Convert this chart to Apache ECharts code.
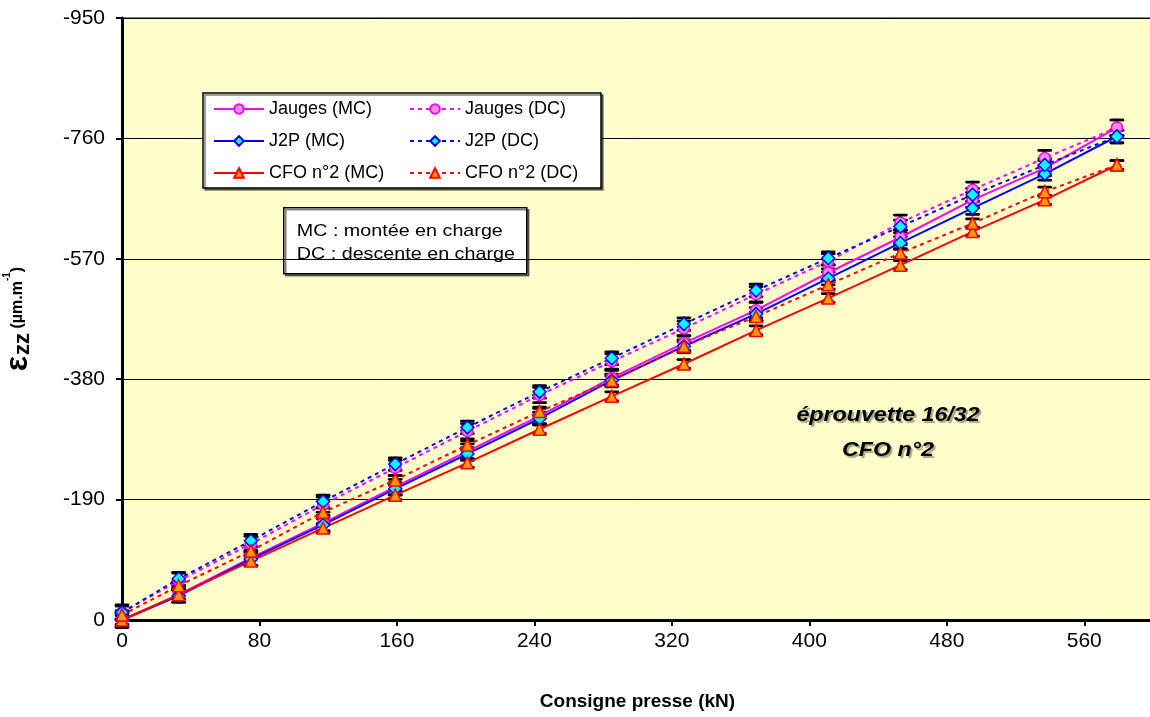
<!DOCTYPE html>
<html>
<head>
<meta charset="utf-8">
<script src="https://cdn.jsdelivr.net/npm/echarts@6/dist/echarts.min.js"></script>
<style>
  html, body { margin: 0; padding: 0; background: #fff; }
  #chart { width: 1150px; height: 717px; }
</style>
</head>
<body>
<div id="chart"></div>
<script>
// load steps (kN)
const loadKN = [0, 33, 75, 117, 159, 201, 243, 285, 327, 369, 411, 453, 495, 537, 579];

// strain values (µm/m), MC = loading, DC = unloading
const jaugesMC = [0, -40, -98, -153, -210, -266, -322, -382, -437, -489, -548, -604, -663, -713, -777];
const jaugesDC = [-12, -62, -120, -182, -240, -298, -355, -408, -460, -514, -566, -627, -679, -729, -777];
const j2pMC = [0, -38, -96, -150, -207, -262, -318, -378, -432, -483, -539, -595, -650, -704, -763];
const j2pDC = [-12, -65, -125, -187, -246, -304, -360, -413, -467, -520, -571, -621, -671, -718, -763];
const cfoMC = [0, -40, -93, -145, -197, -248, -301, -353, -404, -457, -508, -560, -613, -663, -718];
const cfoDC = [-8, -54, -109, -170, -221, -276, -329, -378, -432, -479, -529, -579, -626, -676, -718];

// half width of the error bars, per sensor
const errJauges = 12;
const errJ2P = 10;
const errCFO = 7;

const yTicks = { min: -950, max: 0, step: 190 };
const xTicks = { min: 0, max: 600, step: 80 };

const FONT = 'Liberation Sans, Arial, sans-serif';
// the original picture is a bit wider than it is tall
const stretch = 1.16;

const pairs = function (vals) {
    return loadKN.map((x, i) => [x, vals[i]]);
};
const withErr = function (vals, e) {
    return loadKN.map((x, i) => [x, vals[i], e]);
};

const styles = {
    jauges: { line: '#FF00FF', fill: '#EE8EE0', symbol: 'circle', size: 11 },
    j2p: { line: '#0000FF', fill: '#00FFFF', symbol: 'diamond', size: 13 },
    cfo: { line: '#FF0000', fill: '#FF9900', symbol: 'triangle', size: 12 }
};

const lineSeries = function (name, vals, st, dashed) {
    return {
        name: name,
        type: 'line',
        data: pairs(vals),
        symbol: st.symbol,
        symbolSize: st.size,
        showAllSymbol: true,
        z: 3,
        lineStyle: { color: st.line, width: 2, type: dashed ? [4, 4] : 'solid' },
        itemStyle: { color: st.fill, borderColor: st.line, borderWidth: 1.5 }
    };
};

const errorSeries = function (vals, e) {
    return {
        type: 'custom',
        z: 1,
        silent: true,
        data: withErr(vals, e),
        encode: { x: 0, y: 1 },
        renderItem: function (params, api) {
            const x = api.value(0);
            const y = api.value(1);
            const err = api.value(2);
            const top = api.coord([x, y - err]);
            const bot = api.coord([x, y + err]);
            const cap = 6;
            const st = { stroke: '#000', lineWidth: 2.7, lineCap: 'round' };
            return {
                type: 'group',
                children: [
                    { type: 'line', shape: { x1: top[0], y1: top[1], x2: bot[0], y2: bot[1] }, style: st },
                    { type: 'line', shape: { x1: top[0] - cap, y1: top[1], x2: top[0] + cap, y2: top[1] }, style: st },
                    { type: 'line', shape: { x1: bot[0] - cap, y1: bot[1], x2: bot[0] + cap, y2: bot[1] }, style: st }
                ]
            };
        }
    };
};

const noteText = function (txt, x, y) {
    return {
        type: 'text', x: x, y: y, scaleX: stretch,
        style: { text: txt, font: '17px ' + FONT, fill: '#000', verticalAlign: 'middle' }
    };
};
const titleText = function (txt, y) {
    return {
        type: 'text', x: 888, y: y, z: 10, scaleX: stretch,
        style: {
            text: txt, font: 'italic bold 20px ' + FONT, fill: '#000',
            align: 'center', verticalAlign: 'middle',
            textShadowColor: 'rgba(0,0,0,0.35)', textShadowOffsetX: 2, textShadowOffsetY: 2, textShadowBlur: 1
        }
    };
};

let chart = echarts.init(document.getElementById('chart'));

let option = {
    animation: false,
    backgroundColor: '#fff',
    grid: {
        left: 122, right: -3, top: 18, bottom: 97,
        outerBoundsMode: 'none',
        containLabel: false,
        show: true, backgroundColor: '#FFFFCC', borderColor: '#808080', borderWidth: 2
    },
    legend: {
        left: 203, top: 93, width: 390,
        orient: 'horizontal',
        itemWidth: 50, itemHeight: 12, itemGap: 14,
        padding: [7, 10, 6, 10],
        backgroundColor: '#fff', borderColor: '#000', borderWidth: 1.5,
        shadowColor: 'rgba(0,0,0,0.5)', shadowOffsetX: 2, shadowOffsetY: 2,
        textStyle: { fontFamily: FONT, fontSize: 18, color: '#000', width: 126, lineHeight: 17 },
        data: ['Jauges (MC)', 'Jauges (DC)', 'J2P (MC)', 'J2P (DC)', 'CFO n°2 (MC)', 'CFO n°2 (DC)']
    },
    xAxis: {
        type: 'value',
        min: xTicks.min, max: xTicks.max, interval: xTicks.step,
        name: 'Consigne presse (kN)',
        nameLocation: 'middle', nameGap: 72,
        nameTextStyle: { fontFamily: FONT, fontSize: 19, fontWeight: 'bold', color: '#000' },
        axisLine: { lineStyle: { color: '#000', width: 3 } },
        axisTick: { show: true, length: 6, lineStyle: { color: '#000', width: 2 } },
        axisLabel: { fontFamily: FONT, fontSize: 21, color: '#000', margin: 11, showMaxLabel: false },
        splitLine: { show: false }
    },
    yAxis: {
        type: 'value',
        inverse: true,
        min: yTicks.min, max: yTicks.max, interval: yTicks.step,
        name: '{eps|ε}{sub|zz}{unit| (µm.m}{sup|-1}{unit|)}',
        nameLocation: 'middle', nameRotate: 90, nameGap: 88,
        nameTextStyle: {
            fontFamily: FONT, fontWeight: 'bold', color: '#000',
            rich: {
                eps: { fontFamily: FONT, fontSize: 32, fontWeight: 'bold', color: '#000' },
                sub: { fontFamily: FONT, fontSize: 22, fontWeight: 'bold', color: '#000', verticalAlign: 'bottom', padding: [10, 0, 0, 1] },
                unit: { fontFamily: FONT, fontSize: 16, fontWeight: 'bold', color: '#000' },
                sup: { fontFamily: FONT, fontSize: 10, fontWeight: 'bold', color: '#000', verticalAlign: 'top', padding: [0, 0, 10, 0] }
            }
        },
        axisLine: { lineStyle: { color: '#000', width: 3 } },
        axisTick: { show: true, length: 6, lineStyle: { color: '#000', width: 2 } },
        axisLabel: { fontFamily: FONT, fontSize: 21, color: '#000', margin: 17 },
        splitLine: { show: true, lineStyle: { color: '#000', width: 1 } }
    },
    graphic: [
        {
            type: 'group', left: 283, top: 207, z: 10,
            children: [
                {
                    type: 'rect', shape: { x: 0, y: 0, width: 243, height: 66 },
                    style: { fill: '#fff', stroke: '#000', lineWidth: 1.5, shadowColor: 'rgba(0,0,0,0.5)', shadowOffsetX: 2, shadowOffsetY: 2 }
                },
                noteText('MC : montée en charge', 13, 24),
                noteText('DC : descente en charge', 13, 47)
            ]
        },
        titleText('éprouvette 16/32', 415),
        titleText('CFO n°2', 450)
    ],
    series: [
        errorSeries(jaugesMC, errJauges),
        errorSeries(jaugesDC, errJauges),
        errorSeries(j2pMC, errJ2P),
        errorSeries(j2pDC, errJ2P),
        errorSeries(cfoMC, errCFO),
        errorSeries(cfoDC, errCFO),
        lineSeries('Jauges (MC)', jaugesMC, styles.jauges, false),
        lineSeries('Jauges (DC)', jaugesDC, styles.jauges, true),
        lineSeries('J2P (MC)', j2pMC, styles.j2p, false),
        lineSeries('J2P (DC)', j2pDC, styles.j2p, true),
        lineSeries('CFO n°2 (MC)', cfoMC, styles.cfo, false),
        lineSeries('CFO n°2 (DC)', cfoDC, styles.cfo, true)
    ]
};

chart.setOption(option);
</script>
</body>
</html>
